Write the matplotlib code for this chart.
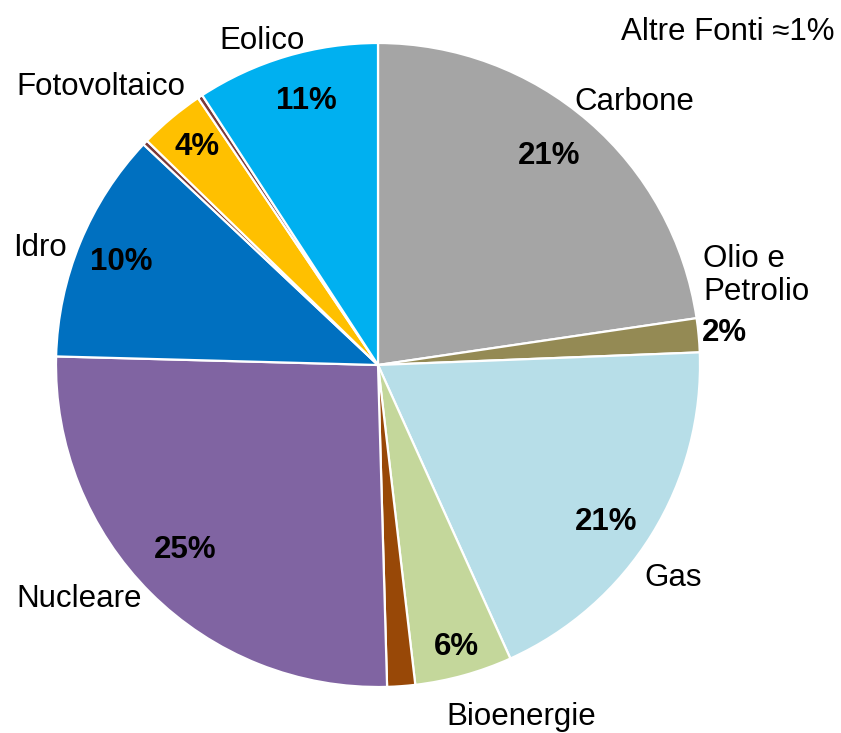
import numpy as np
import matplotlib
matplotlib.use('Agg')
import matplotlib.pyplot as plt

plt.rcParams['font.family'] = ['Liberation Sans', 'DejaVu Sans']

# quote delle fonti (in senso orario dall'alto)
fonti = ['Carbone', 'Olio e\nPetrolio', 'Gas', 'Bioenergie', 'Altre', 'Nucleare',
         'Idro', 'Sottile1', 'Fotovoltaico', 'Sottile2', 'Eolico']
quote = [22.7, 1.7, 18.9, 4.9, 1.4, 25.9, 11.6, 0.25, 3.3, 0.25, 9.2]
etichette_pct = ['21%', '2%', '21%', '6%', '', '25%', '10%', '', '4%', '', '11%']
colori = ['#A5A5A5', '#948A54', '#B7DEE8', '#C4D79B', '#984807', '#8064A2',
          '#0070C0', '#7A3A3A', '#FFC000', '#7A3A3A', '#00B0F0']

# posizione delle etichette: (raggio, spostamento angolare in gradi) per nome e per percentuale
pos_nome = {'Carbone': (1.14, 3.4), 'Olio e\nPetrolio': (1.047, -10.1), 'Gas': (1.13, 4.1),
            'Bioenergie': (1.18, -6.7), 'Nucleare': (1.18, 7.0), 'Idro': (1.11, -3.3),
            'Fotovoltaico': (1.22, -5.0), 'Eolico': (1.07, -3.1)}
pos_pct = [(0.84, -1.5), (1.08, 0.0), (0.86, 2.7), (0.91, 0.0), None, (0.83, 1.2),
           (0.86, -0.6), None, (0.88, 0.2), None, (0.85, 1.3)]

fig = plt.figure(figsize=(8.41, 7.33), dpi=100)
ax = fig.add_axes([0, 0, 1, 1])

wedges, _ = ax.pie(quote, colors=colori, startangle=90, counterclock=False,
                   wedgeprops=dict(edgecolor='white', linewidth=1.6))

fs = 22.5
for i, w in enumerate(wedges):
    mid = np.deg2rad((w.theta1 + w.theta2) / 2)
    nome = fonti[i]
    if nome in pos_nome:
        r, d = pos_nome[nome]
        a = mid - np.deg2rad(d)
        if nome.startswith('Olio'):
            ax.text(r * np.cos(a), r * np.sin(a), nome, fontsize=fs, ha='left', va='center',
                    multialignment='left', linespacing=1.15)
        else:
            ax.text(r * np.cos(a), r * np.sin(a), nome, fontsize=fs, ha='center', va='center')
    if pos_pct[i] is not None:
        r, d = pos_pct[i]
        a = mid - np.deg2rad(d)
        ax.text(r * np.cos(a), r * np.sin(a), etichette_pct[i], fontsize=fs,
                fontweight='bold', ha='center', va='center')

ax.text(0.865, 0.957, 'Altre Fonti \u22481%', transform=ax.transAxes, fontsize=fs,
        ha='center', va='center')

# centro della torta a (378, 365) px, raggio 322 px
ax.set_xlim(-378 / 322, (841 - 378) / 322)
ax.set_ylim(-(733 - 365) / 322, 365 / 322)
ax.set_aspect('auto')
ax.axis('off')

fig.savefig('out.png', dpi=100)
